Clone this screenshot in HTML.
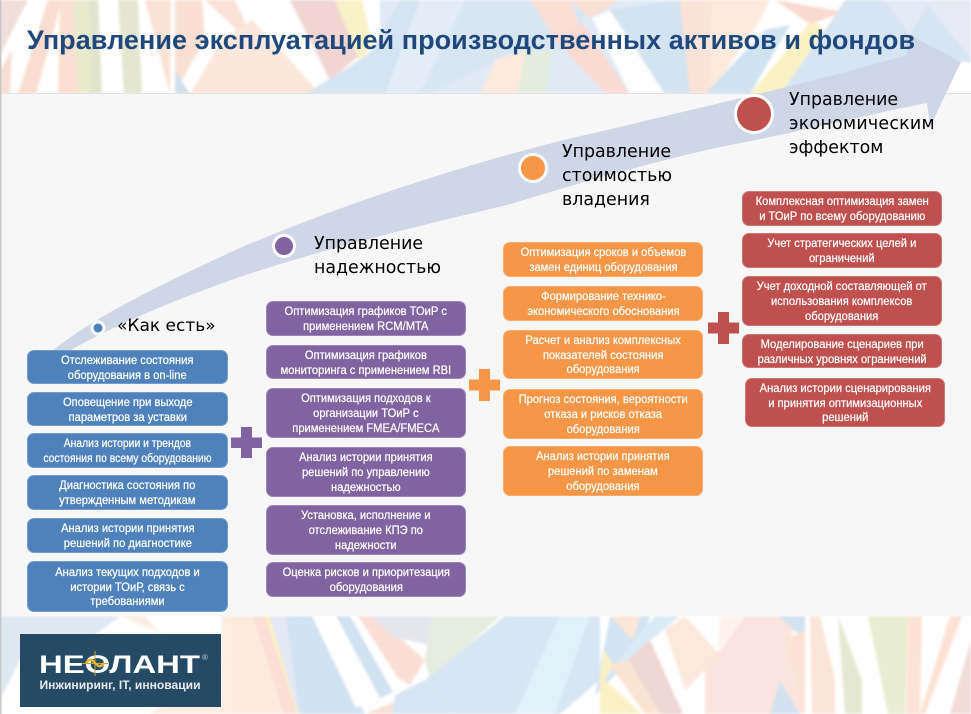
<!DOCTYPE html>
<html lang="ru"><head><meta charset="utf-8"><style>
html,body{margin:0;padding:0;background:#fff}
#p{position:relative;width:971px;height:714px;overflow:hidden;font-family:"Liberation Sans",sans-serif}
svg{position:absolute;left:0;top:0}
.b{position:absolute;width:200px;box-sizing:border-box;border-radius:7px;color:#fff;font:11.5px/14.8px "Liberation Sans",sans-serif;text-align:center;display:flex;align-items:center;justify-content:center;border:1px solid rgba(255,255,255,.22);white-space:nowrap;padding-top:3px;-webkit-text-stroke:.22px #fff}
.b span{display:block;transform:scaleX(.97)}
.l{position:absolute;font:17.4px/24.3px "DejaVu Sans",sans-serif;color:#000;white-space:nowrap}
.bl{background:#4f81bd;left:27px;width:201px}.pu{background:#8064a2;left:266px}.or{background:#f79646;left:503px}.re{background:#c0504d;left:742px}
.t{position:absolute;left:27px;top:24px;font:bold 27px/32px "Liberation Sans",sans-serif;letter-spacing:.05px;color:#1f497d;white-space:nowrap}
</style></head><body><div id="p">
<svg width="971" height="714" viewBox="0 0 971 714">
<defs><filter id="s"><feGaussianBlur stdDeviation="1.3"/></filter></defs>
<rect width="971" height="714" fill="#fff"/>
<g filter="url(#s)" opacity=".82">
<polygon points="380,0 720,0 720,94 380,94" fill="#d8e6f3"/>
<polygon points="0,0 28,0 0,55" fill="#edd7d2"/>
<polygon points="48,0 62,0 36,94 18,94" fill="#f9d6c6"/>
<polygon points="0,70 12,50 10,94 0,94" fill="#f6d9cc"/>
<polygon points="60,0 74,0 80,94 58,94" fill="#fad9c9"/>
<polygon points="73,0 89,0 90,94 78,94" fill="#e4e6c3"/>
<polygon points="89,0 98,0 102,94 90,94" fill="#dadfc5"/>
<polygon points="118,0 138,0 142,94 124,94" fill="#dfe1c8"/>
<polygon points="145,0 171,0 170,94" fill="#f9dccd"/>
<polygon points="175,0 202,0 205,40 190,65 175,94" fill="#f8d9c9"/>
<polygon points="175,70 190,94 175,94" fill="#c8d9ea"/>
<polygon points="205,0 235,0 262,60 232,25" fill="#f9dcd0"/>
<polygon points="190,94 222,40 252,20 290,60 320,94" fill="#fbe2d4"/>
<polygon points="290,0 340,0 360,55 330,80" fill="#edcdc8"/>
<polygon points="335,0 362,0 372,45 360,62" fill="#f8eebd"/>
<polygon points="305,94 360,60 372,50 400,0 420,0 400,94" fill="#cddfee"/>
<polygon points="420,0 465,0 440,50 418,94 385,94" fill="#dbeaf6"/>
<polygon points="465,0 530,0 590,10 560,50 525,50 500,60 430,94 420,94" fill="#d0e1f0"/>
<polygon points="495,60 525,50 520,94 480,94" fill="#fbe6d6"/>
<polygon points="525,50 552,50 546,94 518,94" fill="#dfe8d8"/>
<polygon points="530,0 570,0 578,22 560,45" fill="#fbd8cc"/>
<polygon points="570,0 620,0 590,18" fill="#f9d8cc"/>
<polygon points="553,38 582,22 630,94 606,94" fill="#fad3ca"/>
<polygon points="592,18 610,10 665,94 630,94" fill="#fff"/>
<polygon points="610,10 680,0 695,20 690,94 665,94" fill="#cbdded"/>
<polygon points="680,0 712,0 720,30 712,94 690,94" fill="#fbdccf"/>
<polygon points="712,0 770,0 760,20 710,94" fill="#fbe6d6"/>
<polygon points="705,94 765,30 790,25 750,94" fill="#c8dced"/>
<polygon points="750,94 812,20 825,30 780,94" fill="#f9f0b8"/>
<polygon points="775,0 845,12 810,24" fill="#f9d1c7"/>
<polygon points="845,0 950,0 971,40 971,62 905,60 830,94 780,94 825,30" fill="#cfdfee"/>
<polygon points="925,0 971,0 971,60" fill="#e0e6f2"/>
<polygon points="885,0 930,0 910,35" fill="#d9e7f3"/>
<polygon points="230,616 254,616 300,714 230,714" fill="#fde6d6"/>
<polygon points="253,616 266,616 300,714 284,714" fill="#fad7cf"/>
<polygon points="265,616 269,616 301,714 297,714" fill="#fbf0a8"/>
<polygon points="269,616 310,616 308,680 298,714" fill="#dfe3f2"/>
<polygon points="0,616 120,616 95,635 20,660 0,700" fill="#d6e3ef"/>
<polygon points="120,616 145,616 228,714 150,714 225,660" fill="#fbe9dc"/>
<polygon points="222,616 232,616 232,714 222,714" fill="#fde9dc"/>
<polygon points="286,616 314,616 365,714 300,714" fill="#c8dced"/>
<polygon points="312,616 336,616 378,695 356,708" fill="#fff"/>
<polygon points="336,616 350,616 398,690 380,698" fill="#c8dced"/>
<polygon points="350,616 358,616 400,688 393,692" fill="#fff"/>
<polygon points="358,616 375,616 425,660 410,685 398,678" fill="#fad6cc"/>
<polygon points="370,616 432,616 430,645 395,638" fill="#e0e1ea"/>
<polygon points="432,616 500,616 430,680 425,660" fill="#e0e9da"/>
<polygon points="365,714 422,690 455,714" fill="#fad9cc"/>
<polygon points="395,695 425,680 455,714 392,714" fill="#cfe1f0"/>
<polygon points="425,680 505,616 600,616 600,680 560,714 455,714" fill="#cfe1f0"/>
<polygon points="515,714 560,616 590,616 555,714" fill="#dbeef9"/>
<polygon points="595,695 640,650 650,616 610,616" fill="#cadeee"/>
<polygon points="610,616 640,616 633,640" fill="#fae2cf"/>
<polygon points="635,640 655,616 680,616 603,680" fill="#d3e6f3"/>
<polygon points="600,675 604,650 613,665 605,680 642,714 600,714" fill="#f9f0b8"/>
<polygon points="628,660 650,640 683,714 660,714" fill="#ebcfcb"/>
<polygon points="610,665 628,660 660,714 645,714" fill="#fbdec9"/>
<polygon points="665,630 685,616 720,655 685,690" fill="#fce4d6"/>
<polygon points="720,616 745,616 718,650" fill="#fef0e6"/>
<polygon points="745,616 800,616 790,640 805,714 705,714 705,670" fill="#fbdfd6"/>
<polygon points="780,680 800,714 770,714" fill="#cbdcec"/>
<polygon points="778,616 805,616 805,640" fill="#cadcec"/>
<polygon points="785,640 805,630 805,714" fill="#fbdccc"/>
<polygon points="810,616 820,616 835,680 835,714 812,714" fill="#fbdfd0"/>
<polygon points="838,616 862,680 862,714 845,714" fill="#dfe4c9"/>
<polygon points="868,616 908,616 905,714 888,714" fill="#e4e9c6"/>
<polygon points="908,616 922,616 920,714 906,714" fill="#fbdccc"/>
<polygon points="950,616 962,616 925,714 920,714" fill="#fbdccc"/>
<polygon points="971,640 971,714 950,714" fill="#f0d4d0"/>
</g>
<rect x="0" y="93" width="971" height="1" fill="#e2e2e2"/>
<rect x="0" y="94" width="971" height="522" fill="#f7f7f7"/>
<rect x="0" y="0" width="1.5" height="714" fill="#c8c8c8"/>
<rect x="20" y="634" width="201" height="73" fill="#254a66"/>
<path d="M26,377 C60,335 130,298 240,248 C340,205 480,158 607,130 C720,103 820,80 907,55 L904,32 L961,62 L930,127 L927,103 C860,116 800,132 720,147 C640,165 570,186 507,205 C410,228 320,250 240,277 C160,305 90,335 26,377 Z" fill="#cfd7e6"/>
<circle cx="754" cy="114" r="18.5" fill="#c0504d" stroke="#fff" stroke-width="3"/>
<circle cx="533" cy="168" r="13.500" fill="#f79646" stroke="#fff" stroke-width="3"/>
<circle cx="284" cy="246" r="10.5" fill="#8064a2" stroke="#fff" stroke-width="3"/>
<circle cx="98" cy="328" r="6" fill="#4f81bd" stroke="#fff" stroke-width="3"/>
<path d="M241,427h11v10.5h10v10.5h-10v10h-11v-10h-10v-10.5h10z" fill="#8064a2"/>
<path d="M479,369h11v10.5h10v11h-10v10.5h-11v-10.5h-10v-11h10z" fill="#f79646"/>
<path d="M718,312h11v10.5h10v11h-10v10.5h-11v-10.5h-10v-11h10z" fill="#c0504d"/>
<text x="39" y="673" font-family="Liberation Sans" font-weight="bold" font-size="25" fill="#fff" textLength="161" lengthAdjust="spacingAndGlyphs">НЕОЛАНТ</text>
<path d="M95,651V676M82,663.5H108" stroke="#c9a033" stroke-width="1"/>
<path d="M86,663c4,-6 7,-2 9,0s5,6 9,0" fill="none" stroke="#e5b62e" stroke-width="2.5"/>
<text x="202" y="660" font-family="Liberation Sans" font-size="8" fill="#c8d2da">®</text>
<text x="39.5" y="689" font-family="Liberation Sans" font-weight="bold" font-size="11.5" fill="#e8ecef" textLength="161" lengthAdjust="spacingAndGlyphs">Инжиниринг, IT, инновации</text>
</svg>
<div class="t">Управление эксплуатацией производственных активов и фондов</div>
<div class="l" style="left:117px;top:314px;font-size:17px">«Как есть»</div>
<div class="l" style="left:314px;top:231.500px">Управление<br>надежностью</div>
<div class="l" style="left:562px;top:139.500px">Управление<br>стоимостью<br>владения</div>
<div class="l" style="left:789px;top:87.500px">Управление<br><span style="letter-spacing:.25px">экономическим</span><br>эффектом</div>

<div class="b bl" style="top:350px;height:34px"><span>Отслеживание состояния<br>оборудования в on-line</span></div>
<div class="b bl" style="top:392px;height:34px"><span>Оповещение при выходе<br>параметров за уставки</span></div>
<div class="b bl" style="top:433px;height:35px"><span style="transform:scaleX(.9)">Анализ истории и трендов<br>состояния по всему оборудованию</span></div>
<div class="b bl" style="top:475px;height:35px"><span>Диагностика состояния по<br>утвержденным методикам</span></div>
<div class="b bl" style="top:518px;height:35px"><span>Анализ истории принятия<br>решений по диагностике</span></div>
<div class="b bl" style="top:561px;height:51px"><span>Анализ текущих подходов и<br>истории ТОиР, связь с<br>требованиями</span></div>

<div class="b pu" style="top:301px;height:35px"><span>Оптимизация графиков ТОиР с<br>применением RCM/MTA</span></div>
<div class="b pu" style="top:345px;height:34px"><span>Оптимизация графиков<br>мониторинга с применением RBI</span></div>
<div class="b pu" style="top:388px;height:50px"><span>Оптимизация подходов к<br>организации ТОиР с<br>применением FMEA/FMECA</span></div>
<div class="b pu" style="top:447px;height:50px"><span>Анализ истории принятия<br>решений по управлению<br>надежностью</span></div>
<div class="b pu" style="top:505px;height:50px"><span>Установка, исполнение и<br>отслеживание КПЭ по<br>надежности</span></div>
<div class="b pu" style="top:562px;height:35px"><span>Оценка рисков и приоритезация<br>оборудования</span></div>

<div class="b or" style="top:242px;height:35px"><span>Оптимизация сроков и объемов<br>замен единиц оборудования</span></div>
<div class="b or" style="top:286px;height:35px"><span>Формирование технико-<br>экономического обоснования</span></div>
<div class="b or" style="top:330px;height:49px"><span>Расчет и анализ комплексных<br>показателей состояния<br>оборудования</span></div>
<div class="b or" style="top:389px;height:50px"><span>Прогноз состояния, вероятности<br>отказа и рисков отказа<br>оборудования</span></div>
<div class="b or" style="top:446px;height:50px"><span>Анализ истории принятия<br>решений по заменам<br>оборудования</span></div>

<div class="b re" style="top:191px;height:35px"><span>Комплексная оптимизация замен<br>и ТОиР по всему оборудованию</span></div>
<div class="b re" style="top:233px;height:35px"><span>Учет стратегических целей и<br>ограничений</span></div>
<div class="b re" style="top:276px;height:50px"><span>Учет доходной составляющей от<br>использования комплексов<br>оборудования</span></div>
<div class="b re" style="top:334px;height:34px"><span>Моделирование сценариев при<br>различных уровнях ограничений</span></div>
<div class="b re" style="left:745px;top:378px;height:49px"><span>Анализ истории сценарирования<br>и принятия оптимизационных<br>решений</span></div>
</div></body></html>
